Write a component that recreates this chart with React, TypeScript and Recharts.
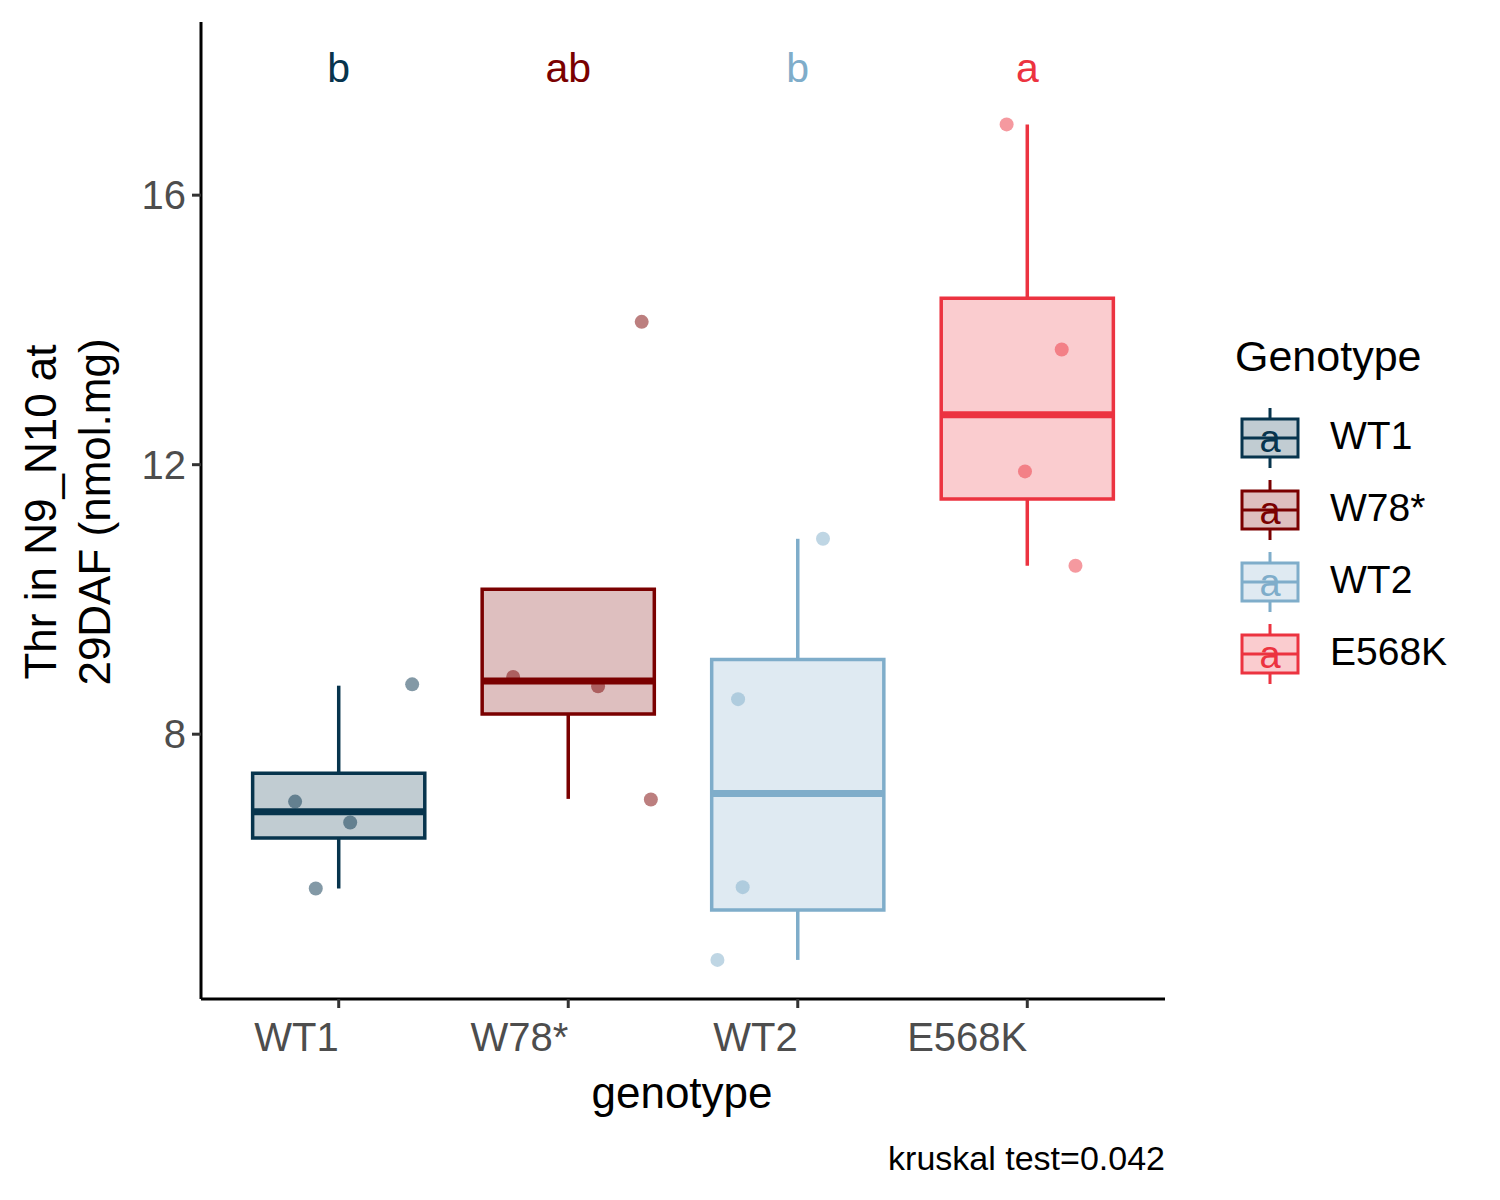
import React from 'react';
import {
  ComposedChart,
  Scatter,
  XAxis,
  YAxis,
  ReferenceArea,
  ReferenceLine,
} from 'recharts';

const genotypes = ['WT1', 'W78*', 'WT2', 'E568K'];
const colors = ['#07344d', '#7a0000', '#7fadca', '#ec3340'];
const letters = ['b', 'ab', 'b', 'a'];

// box stats: [lowWhisker, q1, median, q3, highWhisker]
const wt1Stats = [5.71, 6.46, 6.85, 7.42, 8.72];
const w78Stats = [7.04, 8.3, 8.79, 10.15, 10.15];
const wt2Stats = [4.65, 5.39, 7.12, 9.11, 10.9];
const e568kStats = [10.5, 11.49, 12.74, 14.47, 17.05];
const boxStats = [wt1Stats, w78Stats, wt2Stats, e568kStats];

// jittered raw points: x position (category index + jitter), y value
const wt1X = [0.81, 1.05, 0.9, 1.32];
const wt1Y = [7.0, 6.69, 5.71, 8.74];
const w78X = [1.76, 2.13, 2.32, 2.36];
const w78Y = [8.85, 8.71, 14.12, 7.03];
const wt2X = [2.74, 2.76, 2.65, 3.11];
const wt2Y = [8.52, 5.73, 4.65, 10.9];
const e568kX = [3.91, 4.15, 3.99, 4.21];
const e568kY = [17.05, 13.71, 11.9, 10.5];
const pointX = [wt1X, w78X, wt2X, e568kX];
const pointY = [wt1Y, w78Y, wt2Y, e568kY];

const letterY = 18.0;
const halfBox = 0.375;
const font = '"Liberation Sans", Arial, sans-serif';

const XTick = (props: any) => {
  const { x, y, payload } = props;
  return (
    <text x={x} y={y + 41} textAnchor="end" fontSize={40} fill="#4d4d4d" fontFamily={font}>
      {genotypes[payload.value - 1]}
    </text>
  );
};

const YTick = (props: any) => {
  const { x, y, payload } = props;
  return (
    <text x={x - 4} y={y + 14} textAnchor="end" fontSize={40} fill="#4d4d4d" fontFamily={font}>
      {payload.value}
    </text>
  );
};

const LetterShape = (props: any) => {
  const { cx, cy, payload } = props;
  return (
    <text x={cx} y={cy + 22} textAnchor="middle" fontSize={41} fill={payload.color} fontFamily={font}>
      {payload.letter}
    </text>
  );
};

export default function App() {
  const letterData = genotypes.map((g, i) => ({ x: i + 1, y: letterY, letter: letters[i], color: colors[i] }));
  return (
    <div style={{ position: 'absolute', left: 0, top: 0, width: 1500, height: 1200, background: '#fff', fontFamily: font }}>
      <ComposedChart width={1500} height={1200} margin={{ top: 22, right: 335, bottom: 121, left: 101 }}>
        <XAxis
          type="number"
          dataKey="x"
          domain={[0.4, 4.6]}
          ticks={[1, 2, 3, 4]}
          allowDataOverflow
          height={80}
          tick={<XTick />}
          tickSize={9}
          stroke="#000"
          strokeWidth={3}
          tickLine={{ stroke: '#333', strokeWidth: 3 }}
        />
        <YAxis
          type="number"
          dataKey="y"
          domain={[4.07, 18.57]}
          ticks={[8, 12, 16]}
          allowDataOverflow
          width={100}
          tick={<YTick />}
          tickSize={9}
          stroke="#000"
          strokeWidth={3}
          tickLine={{ stroke: '#333', strokeWidth: 3 }}
        />
        {boxStats.map((s, i) => (
          <ReferenceLine
            key={'wl' + i}
            segment={[{ x: i + 1, y: s[0] }, { x: i + 1, y: s[1] }]}
            stroke={colors[i]}
            strokeWidth={3.5}
            ifOverflow="visible"
          />
        ))}
        {boxStats.map((s, i) => (
          <ReferenceLine
            key={'wh' + i}
            segment={[{ x: i + 1, y: s[3] }, { x: i + 1, y: s[4] }]}
            stroke={colors[i]}
            strokeWidth={3.5}
            ifOverflow="visible"
          />
        ))}
        {boxStats.map((s, i) => (
          <ReferenceArea
            key={'b' + i}
            x1={i + 1 - halfBox}
            x2={i + 1 + halfBox}
            y1={s[1]}
            y2={s[3]}
            fill={colors[i]}
            fillOpacity={0.25}
            stroke={colors[i]}
            strokeWidth={3.5}
            strokeOpacity={1}
            ifOverflow="visible"
          />
        ))}
        {boxStats.map((s, i) => (
          <ReferenceLine
            key={'m' + i}
            segment={[{ x: i + 1 - halfBox, y: s[2] }, { x: i + 1 + halfBox, y: s[2] }]}
            stroke={colors[i]}
            strokeWidth={7}
            ifOverflow="visible"
          />
        ))}
        {genotypes.map((g, i) => (
          <Scatter
            key={'p' + i}
            data={pointX[i].map((x, j) => ({ x, y: pointY[i][j] }))}
            fill={colors[i]}
            fillOpacity={0.5}
            shape={(p: any) => <circle cx={p.cx} cy={p.cy} r={7} fill={colors[i]} fillOpacity={0.5} />}
            isAnimationActive={false}
          />
        ))}
        <Scatter data={letterData} shape={<LetterShape />} isAnimationActive={false} />
      </ComposedChart>

      <div
        style={{
          position: 'absolute', left: 68, top: 512, transform: 'translate(-50%, -50%) rotate(-90deg)',
          fontSize: 44, lineHeight: '54px', textAlign: 'center', whiteSpace: 'nowrap', color: '#000',
        }}
      >
        Thr in N9_N10 at<br />29DAF (nmol.mg)
      </div>
      <div style={{ position: 'absolute', left: 682, top: 1093, transform: 'translate(-50%, -50%)', fontSize: 44, whiteSpace: 'nowrap' }}>
        genotype
      </div>
      <div style={{ position: 'absolute', right: 335, top: 1158, transform: 'translateY(-50%)', fontSize: 34, whiteSpace: 'nowrap' }}>
        kruskal test=0.042
      </div>

      <div style={{ position: 'absolute', left: 1235, top: 332, fontSize: 43, whiteSpace: 'nowrap' }}>Genotype</div>
      {genotypes.map((g, i) => (
        <div key={g} style={{ position: 'absolute', left: 1236, top: 402 + i * 72, height: 72, width: 260 }}>
          <svg width={70} height={72} style={{ position: 'absolute', left: 0, top: 0 }}>
            <line x1={34} y1={6} x2={34} y2={66} stroke={colors[i]} strokeWidth={3} />
            <rect x={6} y={17} width={56} height={38} fill="#fff" />
            <rect x={6} y={17} width={56} height={38} fill={colors[i]} fillOpacity={0.25} stroke={colors[i]} strokeWidth={3} />
            <line x1={6} y1={36} x2={62} y2={36} stroke={colors[i]} strokeWidth={3} />
            <text x={34} y={50} textAnchor="middle" fontSize={38} fill={colors[i]} fontFamily={font}>a</text>
          </svg>
          <div style={{ position: 'absolute', left: 94, top: 12, fontSize: 39, whiteSpace: 'nowrap' }}>{g}</div>
        </div>
      ))}
    </div>
  );
}
